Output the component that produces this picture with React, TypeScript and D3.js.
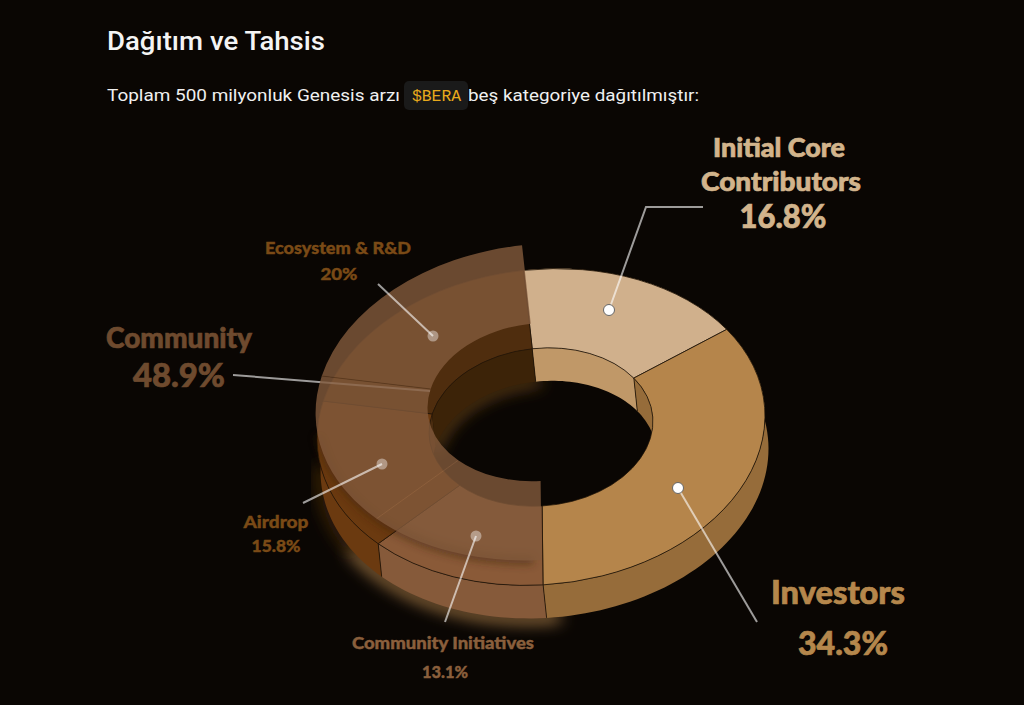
import React from "react";
import * as d3 from "d3";

const categories = ["Initial Core Contributors", "Investors", "Community Initiatives", "Airdrop", "Ecosystem & R&D"];
const shares = [16.8, 34.3, 13.1, 15.8, 20];

const W = 1024, H = 705, CX = 541, CY = 427, RX = 224, RY = 158, SKEW = -11.2, DEPTH = 33, DRIFT = 3.5, LIFT = 25, INNER = 0.5;
const BG = "#0a0603";
const topFill = ["#d0b08c", "#b5854b", "#8a5a38", "#6b3a10", "#4f2d0e"];
const outerWall = ["#a07a50", "#966c3a", "#865a3a", "#6b3a10", "#5a3010"];
const innerWall = ["#c09868", "#966c3a", "#5a3a1c", "#4a2c10", "#3c2308"];

const deg = Math.PI / 180;
const pie = d3.pie<number>().sort(null).startAngle(-4.5 * deg).endAngle(355.5 * deg);
const slices = pie(shares);
const arc = d3.arc<any>().innerRadius(INNER).outerRadius(1);
const matrix = (dy: number, dx = 0) => `matrix(${RX},${SKEW},0,${RY},${CX + dx},${CY + dy})`;
const px = (a: number, r: number, dy = 0, dx = 0): [number, number] => {
  const ux = r * Math.sin(a), uy = -r * Math.cos(a);
  return [CX + dx + RX * ux, CY + dy + SKEW * ux + RY * uy];
};
const lineGen = d3.line();
const sweep = (a0: number, a1: number, r: number) => {
  const n = Math.max(2, Math.ceil(Math.abs(a1 - a0) / (2 * deg)));
  const ts = d3.range(n + 1).map((i) => a0 + ((a1 - a0) * i) / n);
  return lineGen([...ts.map((t) => px(t, r)), ...ts.slice().reverse().map((t) => px(t, r, DEPTH, DRIFT))]) + "Z";
};
const curve = (a0: number, a1: number, r: number, dy: number, dx = 0) => {
  const n = Math.ceil(Math.abs(a1 - a0) / (2 * deg));
  return lineGen(d3.range(n + 1).map((i) => px(a0 + ((a1 - a0) * i) / n, r, dy, dx)));
};
const left = slices.slice(2);

const leaders = [
  { pts: [[703, 207], [646, 207], [609, 310]], dot: [609, 310], solid: true },
  { pts: [[757, 622], [678, 488]], dot: [678, 488], solid: true },
  { pts: [[445, 622], [476, 536]], dot: [476, 536], solid: false },
  { pts: [[303, 503], [382, 464]], dot: [382, 464], solid: false },
  { pts: [[378, 284], [433, 336]], dot: [433, 336], solid: false },
];

const labels = [
  { t: "Initial Core", x: 779, y: 157, s: 26, c: "#d2b48c", w: 132 },
  { t: "Contributors", x: 781, y: 191, s: 26, c: "#d2b48c", w: 160 },
  { t: "16.8%", x: 783, y: 228, s: 32, c: "#d2b48c", w: 87 },
  { t: "Investors", x: 838, y: 604, s: 32, c: "#b5874c", w: 134 },
  { t: "34.3%", x: 843, y: 655, s: 32, c: "#b5874c", w: 90 },
  { t: "Community", x: 179, y: 348, s: 29, c: "#6e4a2e", w: 146 },
  { t: "48.9%", x: 179, y: 387, s: 33, c: "#6e4a2e", w: 92 },
  { t: "Ecosystem & R&D", x: 338, y: 254, s: 17, c: "#7a4a16", w: 146 },
  { t: "20%", x: 339, y: 280, s: 17, c: "#7a4a16", w: 37 },
  { t: "Airdrop", x: 276, y: 528, s: 17, c: "#7a4a16", w: 65 },
  { t: "15.8%", x: 276, y: 552, s: 17, c: "#7a4a16", w: 49 },
  { t: "Community Initiatives", x: 443, y: 649, s: 17, c: "#8a5f3c", w: 182 },
  { t: "13.1%", x: 445, y: 678, s: 17, c: "#8a5f3c", w: 46 },
];

const NS = { vectorEffect: "non-scaling-stroke" } as any;

export default function App() {
  return (
    <svg width={W} height={H} style={{ position: "fixed", left: 0, top: 0, background: BG }}>
      <defs>
        <filter id="glow" x="-30%" y="-30%" width="160%" height="160%"><feGaussianBlur stdDeviation="8" /></filter>
        <filter id="soft" x="-30%" y="-30%" width="160%" height="160%"><feGaussianBlur stdDeviation="4" /></filter>
      </defs>
      <rect width={W} height={H} fill={BG} />

      <text x={107} y={50} fontFamily="Roboto" fontWeight={500} fontSize={26} fill="#f4f4f4" textLength={218} lengthAdjust="spacingAndGlyphs">Dağıtım ve Tahsis</text>
      <text x={107} y={101} fontFamily="Roboto" fontSize={17} fill="#f0f0f0" textLength={293} lengthAdjust="spacingAndGlyphs">Toplam 500 milyonluk Genesis arzı</text>
      <rect x={404} y={81} width={64} height={29} rx={5} fill="#1a1a1a" />
      <text x={412} y={101} fontFamily="'Liberation Mono'" fontSize={16} fill="#e8a91c" textLength={49} lengthAdjust="spacingAndGlyphs">$BERA</text>
      <text x={468} y={101} fontFamily="Roboto" fontSize={17} fill="#f0f0f0" textLength={231} lengthAdjust="spacingAndGlyphs">beş kategoriye dağıtılmıştır:</text>

      {/* glow under the community half */}
      <path d={curve(176 * deg, 240 * deg, 1, DEPTH, DRIFT)!} fill="none" stroke="#d09a58" strokeWidth={8} filter="url(#glow)" />
      <path d={curve(240 * deg, 272 * deg, 1, DEPTH, DRIFT)!} fill="none" stroke="#7a4a18" strokeWidth={5} filter="url(#glow)" />
      <path d={curve(280 * deg, 358 * deg, INNER, DEPTH, DRIFT)!} fill="none" stroke="#8a5a20" strokeWidth={7} filter="url(#glow)" />

      {/* walls */}
      {slices.map((s, i) => (
        <path key={"o" + i} d={sweep(s.startAngle, s.endAngle, 1)} fill={outerWall[i]} />
      ))}
      {slices.map((s, i) => (
        <path key={"n" + i} d={sweep(s.startAngle, s.endAngle, INNER)} fill={innerWall[i]} />
      ))}
      {[slices[1].endAngle, slices[2].endAngle].map((a, i) => (
        <path key={"e" + i} d={lineGen([px(a, 1), px(a, 1, DEPTH, DRIFT)]) as string} stroke="#1a1005" strokeWidth={0.8} />
      ))}
      {[slices[0].endAngle, slices[0].startAngle].map((a, i) => (
        <path key={"f" + i} d={lineGen([px(a, INNER), px(a, INNER, DEPTH, DRIFT)]) as string} stroke="#1a1005" strokeWidth={0.8} />
      ))}
      <path d={curve(slices[4].startAngle - 78 * deg, slices[4].startAngle, INNER, DEPTH, DRIFT)!} fill="none" stroke="#1a1005" strokeWidth={0.6} opacity={0.7} />

      {/* top surfaces */}
      {slices.map((s, i) => (
        <path key={"t" + i} d={arc(s) as string} transform={matrix(0)} fill={topFill[i]} stroke="#1c1207" strokeOpacity={i < 3 ? 0.9 : 0.75} strokeWidth={0.9} {...NS} />
      ))}

      {/* community leader runs under the translucent layer */}
      <path d={lineGen([[233, 375], [430, 391]]) as string} stroke="#fff" strokeOpacity={0.6} strokeWidth={2} fill="none" />

      {/* translucent community layer */}
      <path d={curve(182 * deg, 262 * deg, 1, -LIFT)!} fill="none" stroke="#3a2010" strokeWidth={7} opacity={0.6} filter="url(#soft)" />
      {left.map((s, i) => (
        <path key={"l" + i} d={arc(s) as string} transform={matrix(-LIFT, -1.5)} fill="rgb(130,90,60)" fillOpacity={0.8} />
      ))}
      {[slices[2].endAngle, slices[3].endAngle].map((a, i) => (
        <path key={"d" + i} d={lineGen([px(a, 1, -LIFT, -1.5), px(a, INNER, -LIFT, -1.5)]) as string} stroke={i === 0 ? "#9a6a48" : "#4e3018"} strokeOpacity={0.6} strokeWidth={1} />
      ))}

      {/* leaders */}
      {leaders.map((l, i) => (
        <g key={"k" + i}>
          <path d={lineGen(l.pts as [number, number][]) as string} fill="none" stroke="#fff" strokeOpacity={0.6} strokeWidth={2} />
          <circle cx={l.dot[0]} cy={l.dot[1]} r={5.5} fill="#fff" fillOpacity={l.solid ? 1 : 0.4} stroke={l.solid ? "#666" : "none"} strokeWidth={1} />
        </g>
      ))}

      {labels.map((l, i) => (
        <text key={"x" + i} x={l.x} y={l.y} textAnchor="middle" fontFamily="Lato" fontWeight={900} fontSize={l.s} fill={l.c} stroke={l.c} strokeWidth={l.s > 20 ? 0.7 : 0.4} textLength={l.w} lengthAdjust="spacingAndGlyphs">{l.t}</text>
      ))}
    </svg>
  );
}
